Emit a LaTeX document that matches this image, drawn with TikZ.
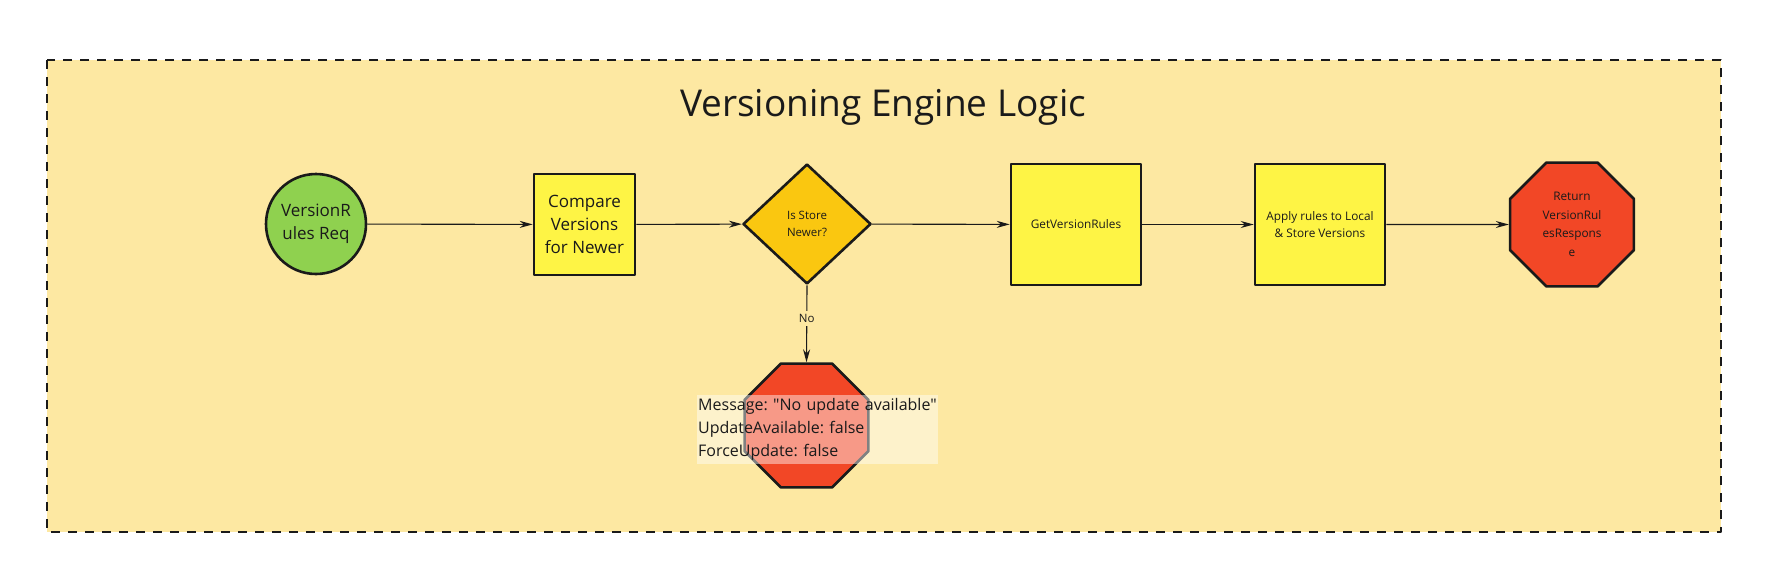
\documentclass[tikz,border=0pt]{standalone}
\usepackage{fontspec}
\setmainfont{Open Sans}
\newfontfamily\notefont{Open Sans}[Ligatures=TeXOff]
\usetikzlibrary{shapes.geometric,arrows.meta}
\definecolor{bgyellow}{HTML}{FDE8A2}
\definecolor{ink}{HTML}{1A1A1A}
\definecolor{startgreen}{HTML}{8FD14F}
\definecolor{stepyellow}{HTML}{FEF445}
\definecolor{choiceorange}{HTML}{FAC710}
\definecolor{stopred}{HTML}{F24726}
\frenchspacing
\begin{document}
\begin{tikzpicture}[x=1pt,y=-1pt,line join=round,>={Stealth[length=13pt,width=7pt]},
	every node/.style={text=ink,inner sep=0pt,align=center},
	outline/.style={draw=ink,line width=2.6pt},
	startnode/.style={outline,circle,fill=startgreen,minimum size=100pt,font=\fontsize{17}{23}\selectfont},
	stepbox/.style={outline,rectangle,fill=stepyellow,font=\fontsize{11.8}{17.7}\selectfont},
	choice/.style={outline,diamond,fill=choiceorange,minimum width=128pt,minimum height=120pt,font=\fontsize{11.5}{17.7}\selectfont},
	stopnode/.style={outline,regular polygon,regular polygon sides=8,fill=stopred,minimum size=134pt,font=\fontsize{11.8}{18.5}\selectfont},
	flow/.style={->,draw=ink,line width=1.1pt}]
	\def \xmin{47};
	\def \xmax{1721};
	\def \ymin{60};
	\def \ymax{532};
	\useasboundingbox (0,0) rectangle (1766,565);
	% frame
	\draw[fill=bgyellow,draw=ink,line width=2.6pt,dash pattern=on 9pt off 8pt] (\xmin,\ymin) rectangle (\xmax,\ymax);
	\node (title) at (883,107) {\fontsize{37}{44}\selectfont Versioning Engine Logic};
	% main row
	\node[startnode] (req) at (316,224) {VersionR\\ules Req};
	\node[stepbox,minimum size=101pt,font=\fontsize{17}{23}\selectfont] (cmp) at (584.5,224.5) {Compare\\Versions\\for Newer};
	\node[choice] (store) at (807,224) {Is Store\\Newer?};
	\node[stepbox,minimum width=130pt,minimum height=121pt] (rules) at (1076,224.5) {GetVersionRules};
	\node[stepbox,minimum width=130pt,minimum height=121pt] (apply) at (1320,224.5) {Apply rules to Local\\\& Store Versions};
	\node[stopnode] (resp) at (1572,224.5) {Return\\VersionRul\\esRespons\\e};
	\node[stopnode] (noupd) at (806.5,425.5) {};
	\draw[flow] (req) -- (cmp);
	\draw[flow] (cmp) -- (store);
	\draw[flow] (store) -- (rules);
	\draw[flow] (rules) -- (apply);
	\draw[flow] (apply) -- (resp);
	\draw[flow] (store.south) -- node[pos=0.43,fill=bgyellow,inner sep=3pt,font=\fontsize{11.5}{14}\selectfont] (nolabel) {No} (noupd.north);
	% note over the stop sign
	\node[anchor=north west,fill=white,fill opacity=0.45,text opacity=1,minimum height=69pt,text width=239pt,inner xsep=1pt,align=left,font=\notefont\fontsize{16}{23}\selectfont] (note) at (697,395) {Message: "No update available"\\UpdateAvailable: false\\ForceUpdate: false};
\end{tikzpicture}
\end{document}
